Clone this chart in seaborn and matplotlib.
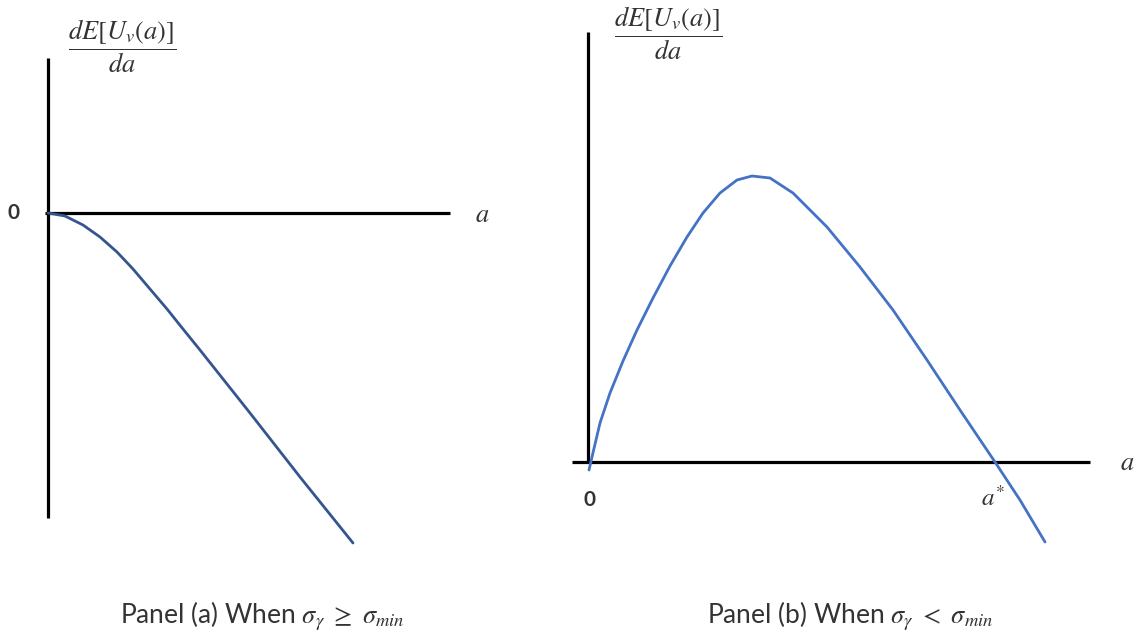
import matplotlib
matplotlib.use("Agg")
import matplotlib.pyplot as plt
import seaborn as sns
import pandas as pd

# curve values (a on x, dE/da on y)
a_left = [0.0, 0.17, 0.35, 0.52, 0.69, 0.85, 1.02, 1.19, 1.35, 1.52, 2.02, 2.52, 3.05]
deriv_left = [0.0, -0.03, -0.12, -0.24, -0.39, -0.56, -0.76, -0.96, -1.16, -1.37, -2.00, -2.64, -3.30]

a_right = [0.01, 0.04, 0.12, 0.22, 0.35, 0.49, 0.65, 0.82, 0.99, 1.15, 1.32, 1.49, 1.64,
           1.82, 2.05, 2.39, 2.72, 3.05, 3.39, 3.72, 4.07, 4.32, 4.57]
deriv_right = [-0.08, 0.05, 0.39, 0.69, 1.01, 1.32, 1.64, 1.96, 2.25, 2.49, 2.69, 2.82, 2.86,
               2.84, 2.69, 2.35, 1.95, 1.52, 1.02, 0.52, 0.0, -0.38, -0.80]

y_label = r"$\dfrac{dE[U_v(a)]}{da}$"
captions = [r"Panel (a) When $\sigma_\gamma\ \geq\ \sigma_{min}$",
            r"Panel (b) When $\sigma_\gamma\ <\ \sigma_{min}$"]

sns.set_style("white")
plt.rcParams["mathtext.fontset"] = "stix"
plt.rcParams["font.family"] = ["Lato", "DejaVu Sans"]

fig = plt.figure(figsize=(11.42, 6.41), dpi=100)
ax_a = fig.add_axes([0, 0, 0.5, 1])
ax_b = fig.add_axes([0.5, 0, 0.5, 1])

text_col = "#333333"

# Panel (a)
df_a = pd.DataFrame({"a": a_left, "d": deriv_left})
ax_a.plot([0, 0], [1.55, -3.05], color="black", lw=2.3, solid_capstyle="butt")
ax_a.plot([-0.03, 4.02], [0, 0], color="black", lw=2.3, solid_capstyle="butt")
sns.lineplot(data=df_a, x="a", y="d", ax=ax_a, color="#34558f", lw=2.0, sort=False)
ax_a.text(-0.34, 0, "0", fontsize=15, ha="center", va="center", color=text_col, fontweight="bold")
ax_a.text(4.34, -0.02, r"$a$", fontsize=19, ha="center", va="center", color=text_col)
ax_a.text(0.74, 1.67, y_label, fontsize=19, ha="center", va="center", color=text_col)
ax_a.text(2.14, -4.03, captions[0], fontsize=19, ha="center", va="center", color=text_col)
ax_a.set_xlim(-0.48, 5.23)
ax_a.set_ylim(-4.28, 2.13)

# Panel (b)
df_b = pd.DataFrame({"a": a_right, "d": deriv_right})
ax_b.plot([0, 0], [4.30, 0], color="black", lw=2.3, solid_capstyle="butt")
ax_b.plot([-0.16, 5.02], [0, 0], color="black", lw=2.3, solid_capstyle="butt")
sns.lineplot(data=df_b, x="a", y="d", ax=ax_b, color="#4472c4", lw=2.0, sort=False)
ax_b.text(0.02, -0.38, "0", fontsize=15, ha="center", va="center", color=text_col, fontweight="bold")
ax_b.text(4.05, -0.35, r"$a^{*}$", fontsize=18, ha="center", va="center", color=text_col)
ax_b.text(5.39, 0, r"$a$", fontsize=19, ha="center", va="center", color=text_col)
ax_b.text(0.80, 4.29, y_label, fontsize=19, ha="center", va="center", color=text_col)
ax_b.text(2.62, -1.54, captions[1], fontsize=19, ha="center", va="center", color=text_col)
ax_b.set_xlim(-0.17, 5.54)
ax_b.set_ylim(-1.79, 4.62)

for ax in (ax_a, ax_b):
    ax.set_axis_off()
    ax.set_xlabel("")
    ax.set_ylabel("")

fig.savefig("out.png", dpi=100, facecolor="white")
